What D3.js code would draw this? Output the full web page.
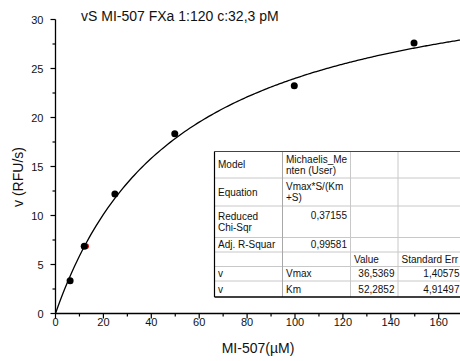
<!DOCTYPE html>
<html><head><meta charset="utf-8">
<script src="https://cdn.jsdelivr.net/npm/d3@7"></script>
<style>
html,body{margin:0;padding:0;background:#fff;}
svg{display:block;font-family:Arial,"Liberation Sans",sans-serif;}
</style></head>
<body><svg id="c" width="460" height="361"></svg>
<script>
// ---- data ----
const concentrations = [6.1, 12.0, 24.8, 49.8, 99.7, 149.7];
const velocities = [3.35, 6.86, 12.2, 18.35, 23.25, 27.6];
const hiddenPointX = [12.7];
const hiddenPointY = [6.85];
const fitParams = [36.5369, 52.2852]; // Vmax, Km
const xTicks = [0, 20, 40, 60, 80, 100, 120, 140, 160];
const yTicks = [0, 5, 10, 15, 20, 25, 30];
const titleText = "vS MI-507 FXa 1:120 c:32,3 pM";
const xTitle = "MI-507(\u00b5M)";
const yTitle = "v (RFU/s)";
const tableCol1 = [["Model"], ["Equation"], ["Reduced", "Chi-Sqr"], ["Adj. R-Squar"], [""], ["v"], ["v"]];
const tableCol2 = [["Michaelis_Me", "nten (User)"], ["Vmax*S/(Km", "+S)"], ["0,37155"], ["0,99581"], [""], ["Vmax"], ["Km"]];
const tableCol3 = [[""], [""], [""], [""], ["Value"], ["36,5369"], ["52,2852"]];
const tableCol4 = [[""], [""], [""], [""], ["Standard Err"], ["1,40575"], ["4,91497"]];

// ---- layout ----
const svg = d3.select("#c");
const x = d3.scaleLinear().domain([0, 175]).range([55.5, 55.5 + 175 * 2.395]);
const y = d3.scaleLinear().domain([0, 30]).range([313.5, 19.5]);

// fit curve
const xs = d3.range(0, 176, 1);
const line = d3.line().x(d => x(d)).y(d => y(fitParams[0] * d / (fitParams[1] + d))).curve(d3.curveMonotoneX);
svg.append("path").datum(xs).attr("d", line).attr("fill", "none").attr("stroke", "#000").attr("stroke-width", 1.3);

// points
svg.selectAll(".hp").data(hiddenPointX).enter().append("circle")
  .attr("cx", d => x(d)).attr("cy", (d, i) => y(hiddenPointY[i])).attr("r", 3.0).attr("fill", "#e00000");
svg.selectAll(".pt").data(concentrations).enter().append("circle")
  .attr("cx", d => x(d)).attr("cy", (d, i) => y(velocities[i])).attr("r", 3.5).attr("fill", "#000");

// table
const colX = [214.5, 282.5, 350.5, 398, 463];
const rowY = [151.5, 178, 206, 237.5, 252, 266.5, 281, 297];
const cols = [tableCol1, tableCol2, tableCol3, tableCol4];
const tg = svg.append("g");
tg.append("rect").attr("x", colX[0]).attr("y", rowY[0]).attr("width", colX[4] - colX[0]).attr("height", rowY[7] - rowY[0]).attr("fill", "#fff");
for (let i = 1; i < rowY.length - 1; i++) {
  tg.append("line").attr("x1", colX[0]).attr("x2", colX[4]).attr("y1", rowY[i]).attr("y2", rowY[i]).attr("stroke", "#c8c8c8").attr("stroke-width", 1);
}
for (let j = 1; j < colX.length - 1; j++) {
  tg.append("line").attr("x1", colX[j]).attr("x2", colX[j]).attr("y1", rowY[0]).attr("y2", rowY[7]).attr("stroke", j === 1 ? "#a8a8a8" : "#c8c8c8").attr("stroke-width", 1);
}
tg.append("line").attr("x1", colX[0]).attr("x2", colX[4]).attr("y1", rowY[0]).attr("y2", rowY[0]).attr("stroke", "#444").attr("stroke-width", 1);
tg.append("line").attr("x1", colX[0]).attr("x2", colX[0]).attr("y1", rowY[0]).attr("y2", rowY[7]).attr("stroke", "#000").attr("stroke-width", 1.2);
tg.append("line").attr("x1", colX[0]).attr("x2", colX[4]).attr("y1", rowY[7]).attr("y2", rowY[7]).attr("stroke", "#000").attr("stroke-width", 1.6);

const numRe = /^[0-9,]+$/;
cols.forEach((col, j) => {
  col.forEach((lines, i) => {
    const top = rowY[i], h = rowY[i + 1] - rowY[i];
    const n = lines.length;
    lines.forEach((t, k) => {
      if (!t) return;
      const isNum = numRe.test(t);
      let by;
      if (j >= 1 && h > 20 && isNum) by = top + 12.5;
      else by = top + h / 2 + 3.5 + (k - (n - 1) / 2) * 11.5;
      tg.append("text")
        .attr("x", isNum ? colX[j + 1] - 3.5 : colX[j] + 3.5)
        .attr("y", by)
        .attr("text-anchor", isNum ? "end" : "start")
        .attr("font-size", 10).attr("fill", "#111").text(t);
    });
  });
});

// axes
const xAxis = svg.append("g");
xAxis.append("line").attr("x1", x(0)).attr("x2", 460).attr("y1", y(0)).attr("y2", y(0)).attr("stroke", "#000").attr("stroke-width", 1.3);
const xMinor = d3.range(10, 175, 20);
xAxis.selectAll(".xM").data(xTicks).enter().append("line")
  .attr("x1", d => x(d)).attr("x2", d => x(d)).attr("y1", y(0)).attr("y2", y(0) + 5).attr("stroke", "#000").attr("stroke-width", 1.2);
xAxis.selectAll(".xm").data(xMinor).enter().append("line")
  .attr("x1", d => x(d)).attr("x2", d => x(d)).attr("y1", y(0)).attr("y2", y(0) + 3).attr("stroke", "#000").attr("stroke-width", 1.2);
xAxis.selectAll(".xl").data(xTicks).enter().append("text")
  .attr("x", d => x(d)).attr("y", 325.5).attr("text-anchor", "middle").attr("font-size", 11).attr("fill", "#111").text(d => d);

const yAxis = svg.append("g");
yAxis.append("line").attr("x1", x(0)).attr("x2", x(0)).attr("y1", y(0)).attr("y2", y(30)).attr("stroke", "#000").attr("stroke-width", 1.3);
const yMinor = d3.range(2.5, 30, 5);
yAxis.selectAll(".yM").data(yTicks).enter().append("line")
  .attr("x1", x(0) - 5).attr("x2", x(0)).attr("y1", d => y(d)).attr("y2", d => y(d)).attr("stroke", "#000").attr("stroke-width", 1.2);
yAxis.selectAll(".ym").data(yMinor).enter().append("line")
  .attr("x1", x(0) - 3).attr("x2", x(0)).attr("y1", d => y(d)).attr("y2", d => y(d)).attr("stroke", "#000").attr("stroke-width", 1.2);
yAxis.selectAll(".yl").data(yTicks).enter().append("text")
  .attr("x", 43.5).attr("y", d => y(d) + 4).attr("text-anchor", "end").attr("font-size", 11).attr("fill", "#111").text(d => d);

// titles
svg.append("text").attr("x", 81).attr("y", 21).attr("font-size", 14).attr("fill", "#111").text(titleText);
svg.append("text").attr("x", 258).attr("y", 353).attr("text-anchor", "middle").attr("font-size", 14).attr("fill", "#111").text(xTitle);
svg.append("text").attr("transform", "translate(23,177) rotate(-90)").attr("text-anchor", "middle").attr("font-size", 14).attr("fill", "#111").text(yTitle);
</script></body></html>
